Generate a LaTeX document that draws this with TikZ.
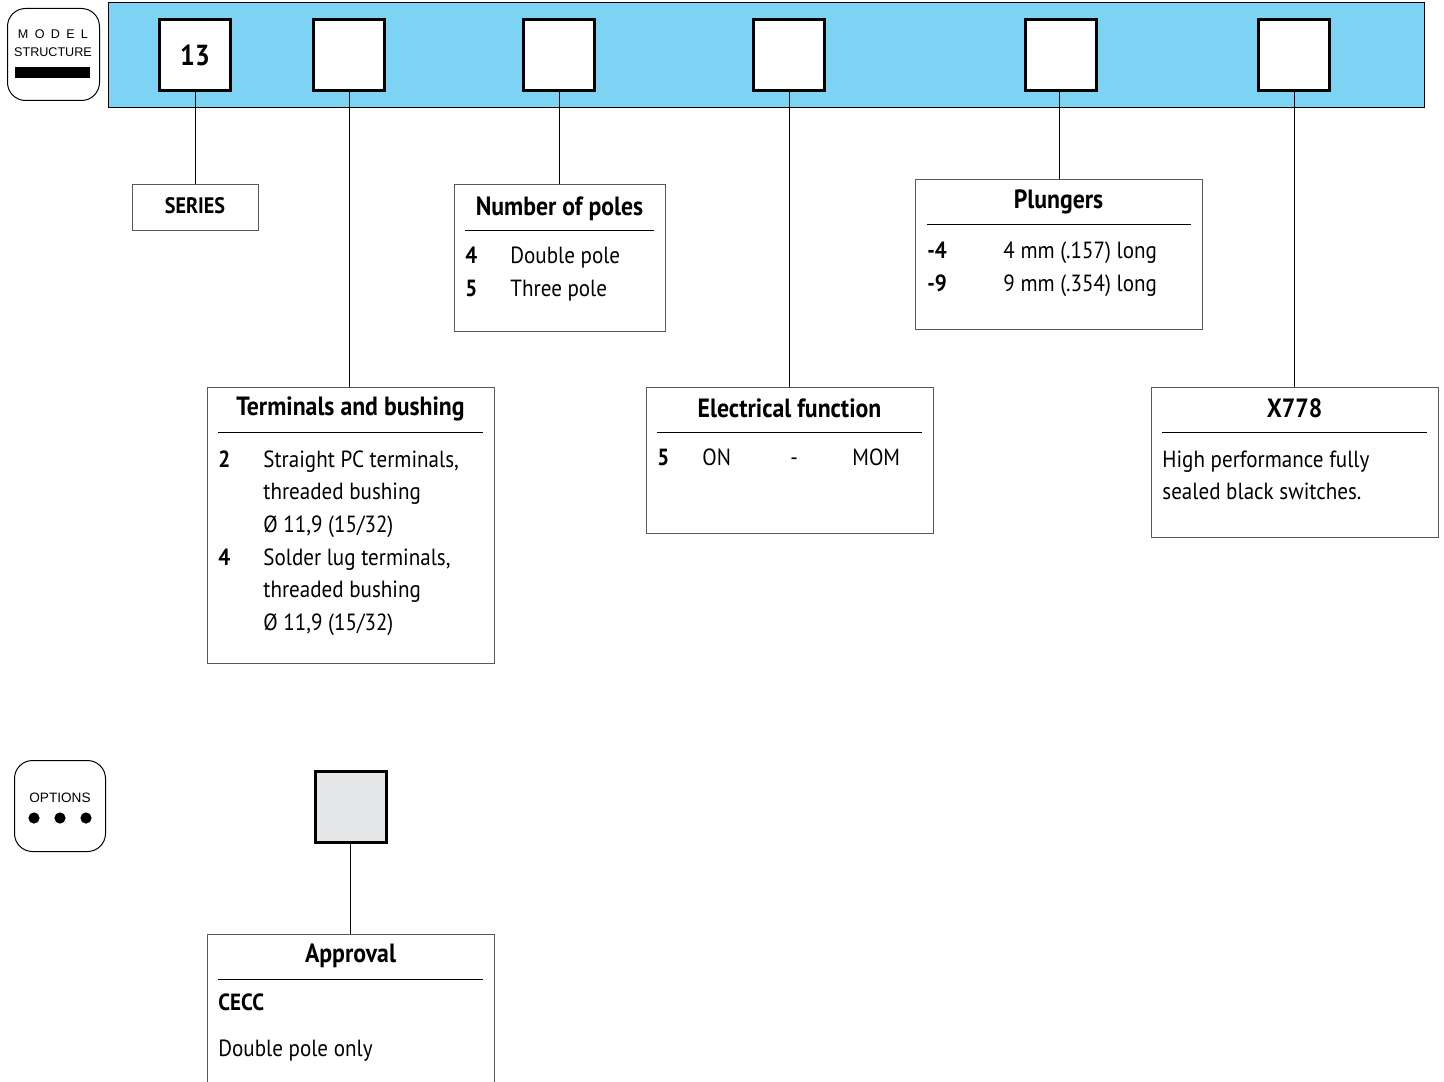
\documentclass[tikz,border=0pt]{standalone}
\usepackage{fontspec}
\setmainfont{PT Sans}[FakeStretch=0.9]
\newfontfamily\logofont{Liberation Sans}
\usepackage{tikz}

\definecolor{bandblue}{HTML}{7DD3F4}
\definecolor{boxgrey}{HTML}{58595B}
\definecolor{optgrey}{HTML}{E6E7E8}

\tikzset{
  selbox/.style={draw, line width=1.5pt, fill=white, minimum size=35.5pt, inner sep=0pt},
  infobox/.style={draw=boxgrey, line width=0.6pt, anchor=north west, inner sep=0pt},
  logobox/.style={draw, line width=0.5pt, rounded corners=9pt, anchor=north west, inner sep=0pt},
  boxtitle/.style={anchor=base, inner sep=0pt, font=\bfseries\fontsize{13.2}{15}\selectfont},
  entry/.style={anchor=base west, inner sep=0pt, font=\fontsize{11.7}{13}\selectfont},
  num/.style={anchor=base west, inner sep=0pt, font=\bfseries\fontsize{11.7}{13}\selectfont},
  rule/.style={line width=0.5pt},
  link/.style={line width=0.5pt}
}

\begin{document}
\begin{tikzpicture}[x=0.5pt, y=-0.5pt]
    \useasboundingbox (0,0) rectangle (1444,1081);

    % model structure logo
    \node[logobox, minimum width=46pt, minimum height=46pt] (model) at (7,8) {};
    \node[anchor=base, inner sep=0pt, font=\logofont\fontsize{6.3}{7}\selectfont] (modelA) at (53,39) {M\,\,\,O\,\,\,D\,\,\,E\,\,\,L};
    \node[anchor=base, inner sep=0pt, font=\logofont\fontsize{6.3}{7}\selectfont] (modelB) at (53,57) {STRUCTURE};
    \fill (15,67) rectangle (90,78);

    % blue band with the code squares
    \node[draw, line width=0.5pt, fill=bandblue, anchor=north west, inner sep=0pt,
          minimum width=658pt, minimum height=52.5pt] (band) at (108,2) {};
    \node[selbox, font=\bfseries\fontsize{14.5}{16}\selectfont] (sq1) at (195,55) {13};
    \node[selbox] (sq2) at (349,55) {};
    \node[selbox] (sq3) at (559,55) {};
    \node[selbox] (sq4) at (789,55) {};
    \node[selbox] (sq5) at (1061,55) {};
    \node[selbox] (sq6) at (1294,55) {};

    % series
    \node[infobox, minimum width=63pt, minimum height=23pt] (series) at (132,184) {};
    \node[anchor=base, inner sep=0pt, font=\bfseries\fontsize{11.2}{13}\selectfont] (seriesT) at (195,213) {SERIES};

    % number of poles
    \node[infobox, minimum width=105.5pt, minimum height=73.5pt] (poles) at (454,184) {};
    \node[boxtitle] (polesT) at (559.5,215) {Number of poles};
    \draw[rule] (465,230) -- (654,230);
    \node[num] (polesA) at (465,263) {4};
    \node[entry] (polesAt) at (510,263) {Double pole};
    \node[num] (polesB) at (465,296) {5};
    \node[entry] (polesBt) at (510,296) {Three pole};

    % plungers
    \node[infobox, minimum width=143.5pt, minimum height=75pt] (plung) at (915,179) {};
    \node[boxtitle] (plungT) at (1058.5,208) {Plungers};
    \draw[rule] (927,224) -- (1191,224);
    \node[num] (plungA) at (927,258) {-4};
    \node[entry] (plungAt) at (1003,258) {4 mm (.157) long};
    \node[num] (plungB) at (927,291) {-9};
    \node[entry] (plungBt) at (1003,291) {9 mm (.354) long};

    % terminals and bushing
    \node[infobox, minimum width=143.5pt, minimum height=138pt] (term) at (207,387) {};
    \node[boxtitle] (termT) at (350.5,415) {Terminals and bushing};
    \draw[rule] (218,432) -- (483,432);
    \node[num] (termA) at (218,467) {2};
    \node[entry] (termA1) at (263,467) {Straight PC terminals,};
    \node[entry] (termA2) at (263,499) {threaded bushing};
    \node[entry] (termA3) at (263,532) {Ø 11,9 (15/32)};
    \node[num] (termB) at (218,565) {4};
    \node[entry] (termB1) at (263,565) {Solder lug terminals,};
    \node[entry] (termB2) at (263,597) {threaded bushing};
    \node[entry] (termB3) at (263,630) {Ø 11,9 (15/32)};

    % electrical function
    \node[infobox, minimum width=143.5pt, minimum height=73pt] (elec) at (646,387) {};
    \node[boxtitle] (elecT) at (789.5,417) {Electrical function};
    \draw[rule] (657,432) -- (922,432);
    \node[num] (elecA) at (657,465) {5};
    \node[entry] (elecA1) at (702,465) {ON};
    \node[entry] (elecA2) at (790,465) {-};
    \node[entry] (elecA3) at (852,465) {MOM};

    % X778
    \node[infobox, minimum width=143.5pt, minimum height=75pt] (xsfx) at (1151,387) {};
    \node[boxtitle] (xsfxT) at (1294.5,417) {X778};
    \draw[rule] (1162,432) -- (1427,432);
    \node[entry] (xsfxA) at (1162,467) {High performance fully};
    \node[entry] (xsfxB) at (1162,499) {sealed black switches.};

    % links
    \draw[link] (sq1.south) -- (sq1.south |- series.north);
    \draw[link] (sq2.south) -- (sq2.south |- term.north);
    \draw[link] (sq3.south) -- (sq3.south |- poles.north);
    \draw[link] (sq4.south) -- (sq4.south |- elec.north);
    \draw[link] (plung.north |- sq5.south) -- (plung.north);
    \draw[link] (sq6.south) -- (sq6.south |- xsfx.north);

    % options logo
    \node[logobox, minimum width=45.5pt, minimum height=45.5pt] (opts) at (14,760) {};
    \node[anchor=base, inner sep=0pt, font=\logofont\fontsize{6.8}{8}\selectfont] (optsT) at (60,802) {OPTIONS};
    \fill (34,818) circle (2.8pt);
    \fill (60,818) circle (2.8pt);
    \fill (86,818) circle (2.8pt);

    % approval
    \node[selbox, fill=optgrey] (sqopt) at (350.5,806.5) {};
    \node[infobox, minimum width=143.5pt, minimum height=76pt] (appr) at (207,934) {};
    \node[boxtitle] (apprT) at (350.5,962) {Approval};
    \draw[rule] (218,979) -- (483,979);
    \node[num] (apprA) at (218,1010) {CECC};
    \node[entry] (apprB) at (218,1056) {Double pole only};
    \draw[link] (sqopt.south) -- (sqopt.south |- appr.north);
\end{tikzpicture}
\end{document}
